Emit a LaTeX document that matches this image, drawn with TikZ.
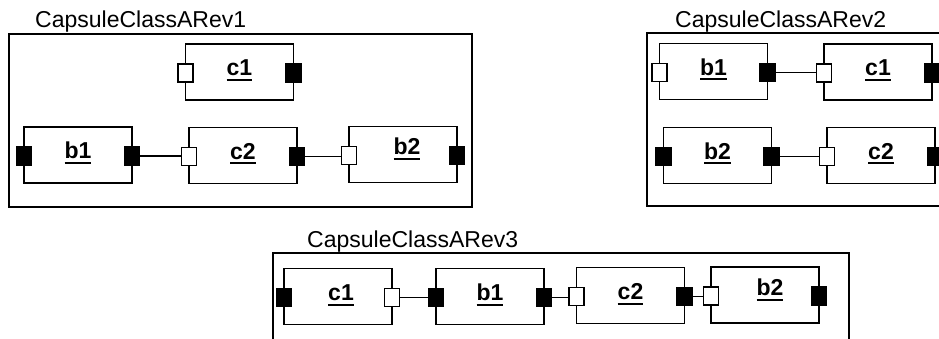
\documentclass[tikz,border=0pt]{standalone}
\usepackage{fontspec}
\setmainfont{Liberation Sans}
\newcommand\ulbl[1]{\setbox0\hbox{#1}\rlap{\rule[-5pt]{\wd0}{2pt}}\box0}
\tikzset{
  partbox/.style={draw, line width=1.8pt, minimum width=108pt, minimum height=56pt, inner sep=0pt, outer sep=0pt},
  portw/.style={draw, fill=white, line width=1.3pt, minimum width=15pt, minimum height=18pt, inner sep=0pt, outer sep=0pt, yshift=-1pt},
  portb/.style={portw, fill=black},
  framebox/.style={draw, line width=2.4pt, inner sep=0pt, outer sep=0pt},
  ttl/.style={font=\fontsize{23}{27}\selectfont, anchor=base west, inner sep=0pt},
  lbl/.style={font=\bfseries\fontsize{23}{27}\selectfont, anchor=base, inner sep=0pt},
  conn/.style={line width=1.8pt}
}
% name, cx, cy, label, left port style, right port style, label shift x, label baseline shift
\newcommand\capsulepart[8]{%
  \node[partbox] (#1) at (#2,#3) {};
  \node[#5] (#1L) at (#1.west) {};
  \node[#6] (#1R) at (#1.east) {};
  \node[lbl] (#1t) at ([xshift=#7pt,yshift=-#8pt]#1.center) {\ulbl{#4}};
}
\begin{document}
\begin{tikzpicture}[x=1pt,y=-1pt]
\useasboundingbox (0,0) rectangle (939,339);
\clip (0,0) rectangle (939,339);
\fill[white] (0,0) rectangle (939,339);

% ---------- Rev1 ----------
\node[ttl] (t1) at (35,28) {CapsuleClassARev1};
\node[framebox, minimum width=463pt, minimum height=173pt] (f1) at (240.5,120.5) {};
\capsulepart{ra}{239.5}{72}{c1}{portw}{portb}{0}{4}
\capsulepart{rb}{78}{155}{b1}{portb}{portb}{0}{4}
\capsulepart{rc}{243}{155.5}{c2}{portw}{portb}{0}{4}
\capsulepart{rd}{403}{154.5}{b2}{portw}{portb}{4}{0.5}
\draw[conn] (rbR.east) -- (rbR.east -| rcL.west);
\draw[conn] (rcR.east) -- (rcR.east -| rdL.west);

% ---------- Rev2 ----------
\node[ttl] (t2) at (675,28) {CapsuleClassARev2};
\node[framebox, minimum width=400pt, minimum height=173pt] (f2) at (847,119.5) {};
\capsulepart{sa}{713.5}{71.5}{b1}{portw}{portb}{0}{4}
\capsulepart{sb}{878}{72}{c1}{portw}{portb}{0}{4}
\capsulepart{sc}{717.5}{155.5}{b2}{portb}{portb}{0}{4}
\capsulepart{sd}{881}{155.5}{c2}{portw}{portb}{0}{4}
\draw[conn] (saR.east) -- (saR.east -| sbL.west);
\draw[conn] (scR.east) -- (scR.east -| sdL.west);

% ---------- Rev3 ----------
\node[ttl] (t3) at (307,247) {CapsuleClassARev3};
\node[framebox, minimum width=576pt, minimum height=200pt] (f3) at (561,353) {};
\capsulepart{ua}{338}{296.5}{c1}{portb}{portw}{3}{4}
\capsulepart{ub}{490}{296.5}{b1}{portb}{portb}{0}{4}
\capsulepart{uc}{630.5}{295.5}{c2}{portw}{portb}{0}{4}
\capsulepart{ud}{765}{295}{b2}{portw}{portb}{5}{0.5}
\draw[conn] (uaR.east) -- (uaR.east -| ubL.west);
\draw[conn] (ubR.east) -- (ubR.east -| ucL.west);
\draw[conn] (ucR.east) -- (ucR.east -| udL.west);
\end{tikzpicture}
\end{document}
